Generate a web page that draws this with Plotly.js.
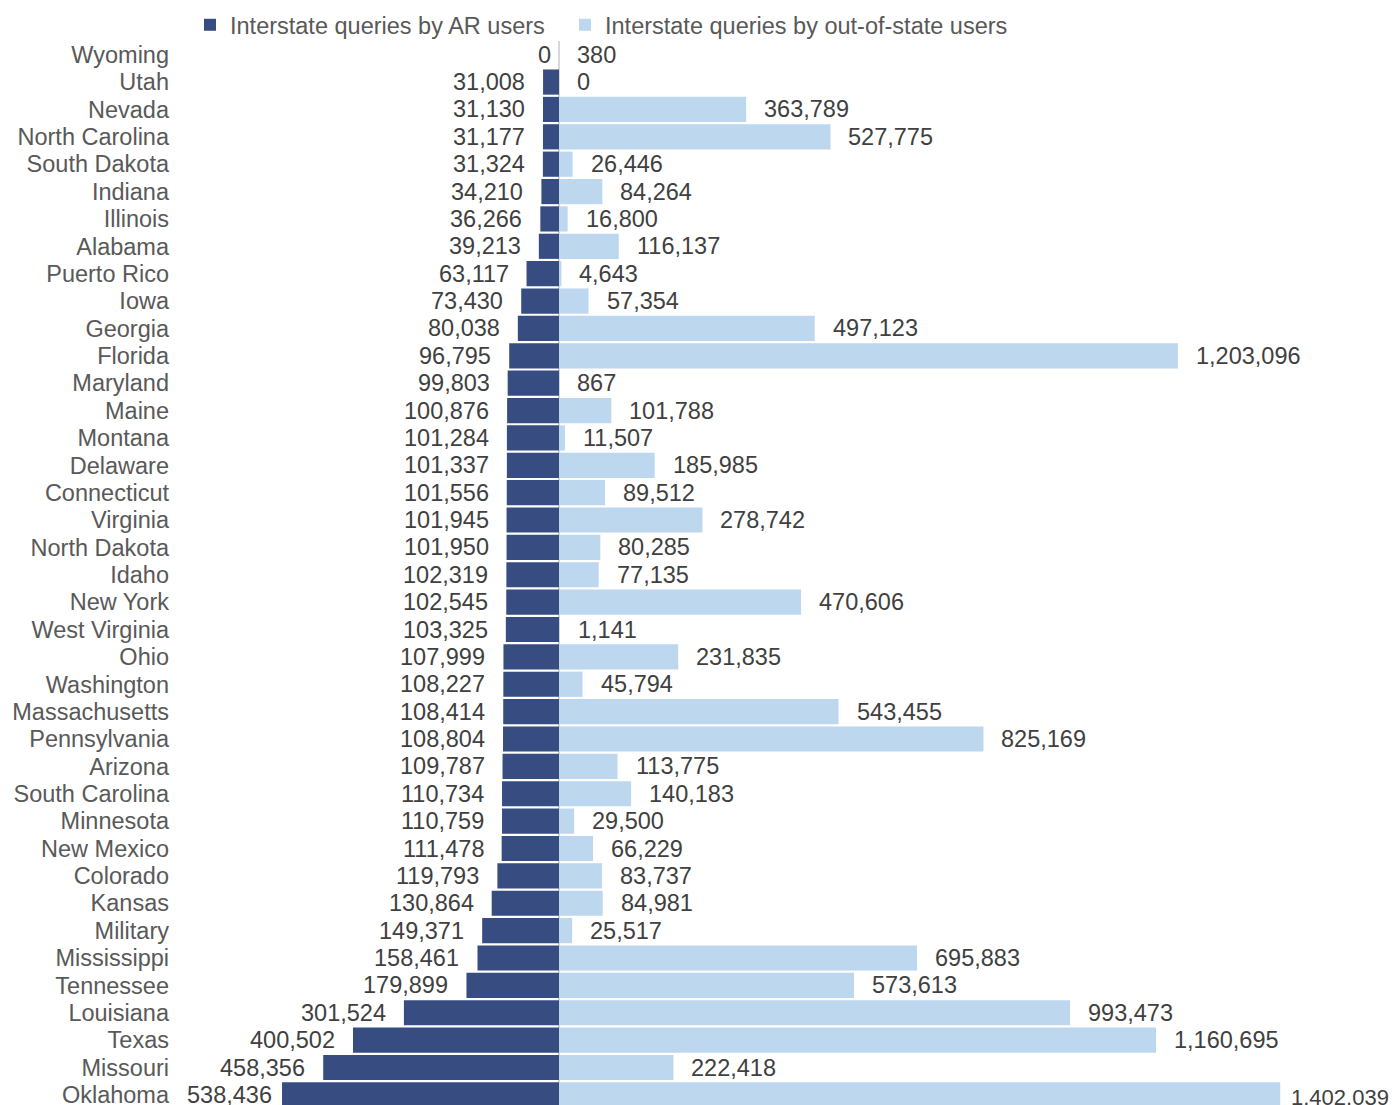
<!DOCTYPE html>
<html>
<head>
<meta charset="utf-8">
<script src="https://cdn.plot.ly/plotly-3.0.1.min.js"></script>
<style>
  html, body { margin: 0; padding: 0; background: #ffffff; }
  #chart { width: 1392px; height: 1105px; }
</style>
</head>
<body>
<div id="chart"></div>
<script>
// ---- Data (top row to bottom row) ----
const states = [
  "Wyoming", "Utah", "Nevada", "North Carolina", "South Dakota", "Indiana",
  "Illinois", "Alabama", "Puerto Rico", "Iowa", "Georgia", "Florida",
  "Maryland", "Maine", "Montana", "Delaware", "Connecticut", "Virginia",
  "North Dakota", "Idaho", "New York", "West Virginia", "Ohio", "Washington",
  "Massachusetts", "Pennsylvania", "Arizona", "South Carolina", "Minnesota",
  "New Mexico", "Colorado", "Kansas", "Military", "Mississippi", "Tennessee",
  "Louisiana", "Texas", "Missouri", "Oklahoma"
];

const arUserQueries = [
  0, 31008, 31130, 31177, 31324, 34210,
  36266, 39213, 63117, 73430, 80038, 96795,
  99803, 100876, 101284, 101337, 101556, 101945,
  101950, 102319, 102545, 103325, 107999, 108227,
  108414, 108804, 109787, 110734, 110759,
  111478, 119793, 130864, 149371, 158461, 179899,
  301524, 400502, 458356, 538436
];

const outOfStateQueries = [
  380, 0, 363789, 527775, 26446, 84264,
  16800, 116137, 4643, 57354, 497123, 1203096,
  867, 101788, 11507, 185985, 89512, 278742,
  80285, 77135, 470606, 1141, 231835, 45794,
  543455, 825169, 113775, 140183, 29500,
  66229, 83737, 84981, 25517, 695883, 573613,
  993473, 1160695, 222418, 1402039
];

// The source chart prints Oklahoma's out-of-state figure with periods.
const outLabelOverrides = { "Oklahoma": "1.402.039" };

const seriesNames = [
  "Interstate queries by AR users",
  "Interstate queries by out-of-state users"
];

// ---- Style ----
const FONT = "'Liberation Sans', Arial, 'DejaVu Sans', sans-serif";
const FS = 23.5;
const LABEL_GAP = 16;                    // px between bar end and value label
// hand-placed labels in the source chart (pixel nudges)
const leftNudge = { "Wyoming": { dx: 10, dy: 0 }, "Oklahoma": { dx: 8, dy: 0 } };
const rightNudge = { "Oklahoma": { dx: -7, dy: -3, size: 22 } };
const PX_UNITS = 1944;                   // data units per pixel
const ML = 170, ZERO_PX = 559, MR = 8, W = 1392, H = 1105;

const fmt = v => v.toLocaleString("en-US");

// ---- Traces ----
const traceAR = {
  type: "bar",
  orientation: "h",
  name: seriesNames[0],
  legend: "legend",
  y: states,
  x: arUserQueries.map(v => -v),
  marker: { color: "#374C80", line: { width: 0 } },
  hoverinfo: "skip"
};

const traceOut = {
  type: "bar",
  orientation: "h",
  name: seriesNames[1],
  legend: "legend2",
  y: states,
  x: outOfStateQueries,
  marker: { color: "#BDD7EE", line: { width: 0 } },
  hoverinfo: "skip"
};

// ---- Value labels as annotations anchored at the bar ends ----
const annotations = [];
states.forEach((s, i) => {
  const ln = leftNudge[s] || { dx: 0, dy: 0 };
  annotations.push({
    x: -arUserQueries[i], y: s, xref: "x", yref: "y",
    text: fmt(arUserQueries[i]),
    showarrow: false, xanchor: "right", yanchor: "middle",
    xshift: -LABEL_GAP + ln.dx, yshift: ln.dy,
    font: { family: FONT, size: FS, color: "#404040" }
  });
  const rn = rightNudge[s] || { dx: 0, dy: 0 };
  annotations.push({
    x: outOfStateQueries[i], y: s, xref: "x", yref: "y",
    text: outLabelOverrides[s] || fmt(outOfStateQueries[i]),
    showarrow: false, xanchor: "left", yanchor: "middle",
    xshift: LABEL_GAP + rn.dx, yshift: rn.dy,
    font: { family: FONT, size: rn.size || FS, color: "#404040" }
  });
});

const legendCommon = {
  orientation: "h",
  xref: "container",
  yref: "container",
  xanchor: "left",
  y: 1 - 25 / H,
  yanchor: "middle",
  font: { family: FONT, size: FS, color: "#595959" },
  bgcolor: "rgba(0,0,0,0)"
};

const layout = {
  width: W,
  height: H,
  paper_bgcolor: "#ffffff",
  plot_bgcolor: "#ffffff",
  font: { family: FONT, size: FS, color: "#595959" },
  margin: { l: ML, r: MR, t: 41, b: 0, pad: 0, autoexpand: false },
  barmode: "overlay",
  bargap: 0.08,
  showlegend: true,
  legend: Object.assign({}, legendCommon, { x: 190 / W }),
  legend2: Object.assign({}, legendCommon, { x: 565 / W }),
  annotations: annotations,
  xaxis: {
    range: [-(ZERO_PX - ML) * PX_UNITS, (W - MR - ZERO_PX) * PX_UNITS],
    showgrid: false,
    showticklabels: false,
    ticks: "",
    zeroline: true,
    zerolinecolor: "#D9D9D9",
    zerolinewidth: 2,
    showline: false,
    fixedrange: true
  },
  yaxis: {
    type: "category",
    categoryorder: "array",
    categoryarray: states,
    tickmode: "array",
    tickvals: states,
    ticktext: states,
    range: [38.37, -0.5],
    showgrid: false,
    zeroline: false,
    showline: false,
    ticks: "",
    tickfont: { family: FONT, size: FS, color: "#595959" },
    automargin: false,
    fixedrange: true
  }
};

Plotly.newPlot("chart", [traceAR, traceOut], layout, { displayModeBar: false, staticPlot: true });
</script>
</body>
</html>
